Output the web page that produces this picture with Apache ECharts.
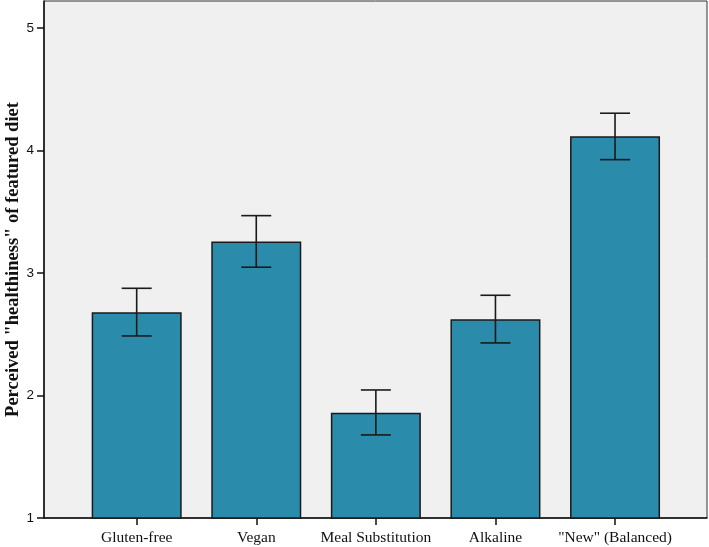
<!DOCTYPE html>
<html>
<head>
<meta charset="utf-8">
<script src="https://cdn.jsdelivr.net/npm/echarts@6/dist/echarts.min.js"></script>
<style>html,body{margin:0;padding:0;background:#fff}#c{width:709px;height:547px}</style>
</head>
<body>
<div id="c"></div>
<script>
const categories = ['Gluten-free', 'Vegan', 'Meal Substitution', 'Alkaline', '"New" (Balanced)'];
const means = [2.68, 3.256, 1.86, 2.622, 4.116];
const errLow = [2.486, 3.047, 1.678, 2.429, 3.925];
const errHigh = [2.875, 3.468, 2.045, 2.818, 4.304];
const yTicks = [1, 2, 3, 4, 5];

const chart = echarts.init(document.getElementById('c'), null, {renderer: 'canvas'});
const idx = categories.map((_, i) => i);
chart.setOption({
  animation: false,
  grid: {left: 44, right: 2, top: 1, bottom: 29, show: true, backgroundColor: '#f0f0f0',
    borderColor: '#333', borderWidth: 1, containLabel: false, outerBoundsMode: 'none'},
  xAxis: {
    type: 'value', min: -0.775, max: 4.769,
    splitLine: {show: false},
    axisLine: {show: true, onZero: false, lineStyle: {color: '#111', width: 1.5}},
    axisTick: {show: true, inside: false, customValues: idx, length: 7, lineStyle: {color: '#111', width: 1.5}},
    axisLabel: {customValues: idx, formatter: v => categories[Math.round(v)] || '', color: '#111',
      fontFamily: 'Liberation Serif', fontSize: 15.5, margin: 12}
  },
  yAxis: {
    type: 'value', min: 1, max: 5.22, interval: 1,
    splitLine: {show: false},
    axisLine: {show: true, onZero: false, lineStyle: {color: '#111', width: 1.5}},
    axisTick: {show: true, inside: false, length: 7, customValues: yTicks, lineStyle: {color: '#111', width: 1.5}},
    axisLabel: {customValues: yTicks, color: '#111', fontFamily: 'Liberation Sans', fontSize: 13.5, margin: 10},
    name: 'Perceived "healthiness" of featured diet',
    nameLocation: 'middle', nameGap: 21, nameMoveOverlap: false,
    nameTextStyle: {fontFamily: 'Liberation Serif', fontWeight: 'bold', fontSize: 18.5, color: '#111'}
  },
  series: [
    {
      type: 'bar', barWidth: 90,
      data: means.map((v, i) => [i, v]),
      itemStyle: {color: '#2a8bab', borderColor: '#1a1a1a', borderWidth: 1.5}
    },
    {
      type: 'custom',
      data: idx.map(i => [i, errLow[i], errHigh[i]]),
      renderItem: function (params, api) {
        const x = api.value(0);
        const lo = api.coord([x, api.value(1)]);
        const hi = api.coord([x, api.value(2)]);
        const hw = 15;
        const st = {stroke: '#1a1a1a', lineWidth: 1.6};
        return {type: 'group', children: [
          {type: 'line', shape: {x1: lo[0], y1: lo[1], x2: hi[0], y2: hi[1]}, style: st},
          {type: 'line', shape: {x1: lo[0] - hw, y1: lo[1], x2: lo[0] + hw, y2: lo[1]}, style: st},
          {type: 'line', shape: {x1: hi[0] - hw, y1: hi[1], x2: hi[0] + hw, y2: hi[1]}, style: st}
        ]};
      },
      z: 10
    }
  ]
});
</script>
</body>
</html>
